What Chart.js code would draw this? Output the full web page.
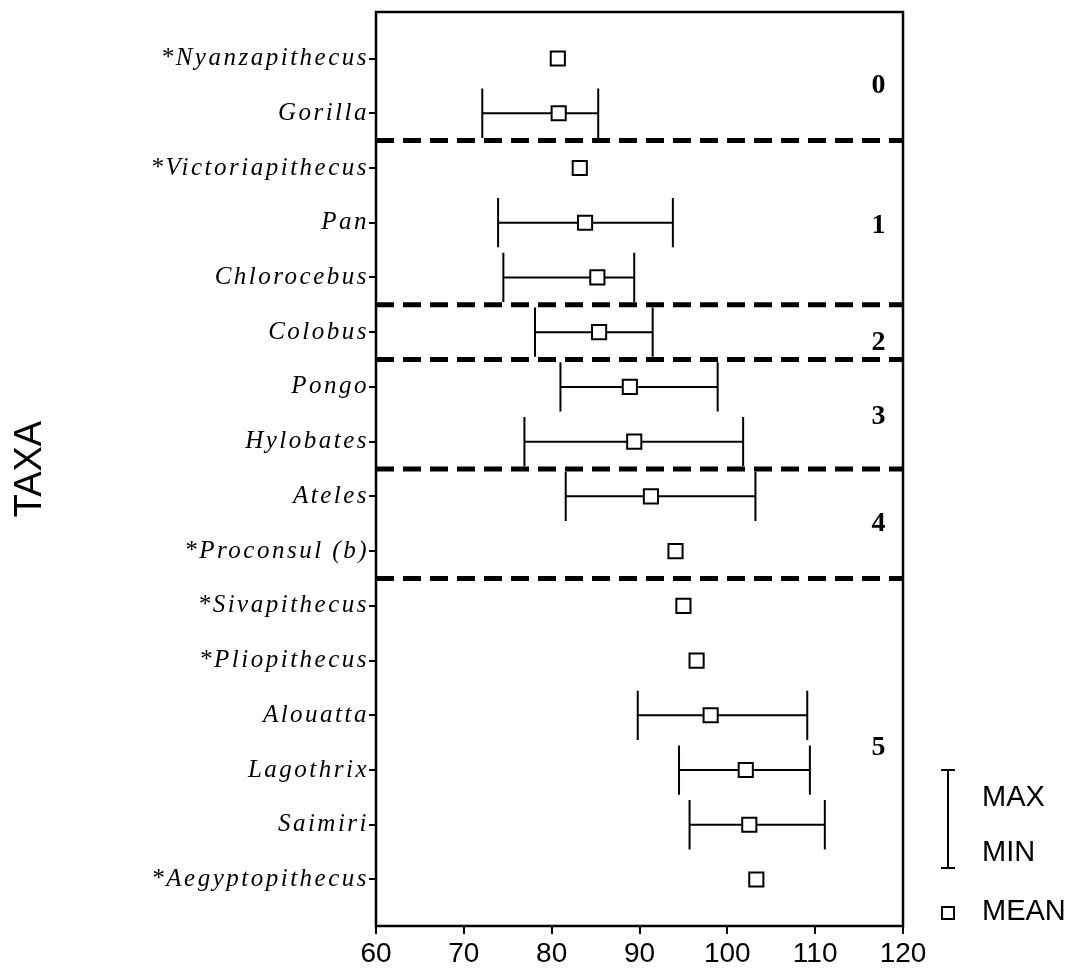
<!DOCTYPE html>
<html lang="en">
<head>
  <meta charset="UTF-8" />
  <title>Taxa range chart</title>
  <script src="https://cdn.jsdelivr.net/npm/chart.js"></script>
  <style>
    html, body { margin: 0; padding: 0; background: #ffffff; }
    canvas { display: block; }
  </style>
</head>
<body>
  <canvas id="taxaChart" width="1076" height="971"></canvas>

  <script>
    // data
    const taxa = ['*Nyanzapithecus', 'Gorilla', '*Victoriapithecus', 'Pan', 'Chlorocebus', 'Colobus',
      'Pongo', 'Hylobates', 'Ateles', '*Proconsul (b)', '*Sivapithecus', '*Pliopithecus',
      'Alouatta', 'Lagothrix', 'Saimiri', '*Aegyptopithecus'];
    const means = [80.7, 80.8, 83.2, 83.8, 85.2, 85.4, 88.9, 89.4, 91.3, 94.1, 95.0, 96.5, 98.1, 102.1, 102.5, 103.3];
    const mins = [null, 72.1, null, 73.9, 74.5, 78.1, 81.0, 76.9, 81.6, null, null, null, 89.8, 94.5, 95.7, null];
    const maxs = [null, 85.3, null, 93.8, 89.4, 91.5, 98.9, 101.8, 103.2, null, null, null, 109.1, 109.4, 111.1, null];
    const xTicks = [60, 70, 80, 90, 100, 110, 120];

    // group separators (between rows) and group labels
    const dividers = [1.5, 4.5, 5.5, 7.5, 9.5];
    const groupNames = ['0', '1', '2', '3', '4', '5'];
    const groupRows = [0.5, 3.05, 5.2, 6.55, 8.5, 12.6];

    const overlay = {
      id: 'overlay',
      beforeDraw(chart) {
        // spaced italic names on the y axis
        chart.ctx.letterSpacing = '2.5px';
      },
      beforeDatasetsDraw(chart) {
        const ctx = chart.ctx;
        ctx.letterSpacing = '0px';
        const { x, y } = chart.scales;
        const { left, right } = chart.chartArea;

        ctx.save();
        ctx.strokeStyle = '#000';
        ctx.lineWidth = 5;
        ctx.setLineDash([18, 9]);
        dividers.forEach(d => {
          const py = y.getPixelForValue(d);
          ctx.beginPath();
          ctx.moveTo(left, py);
          ctx.lineTo(right, py);
          ctx.stroke();
        });
        ctx.restore();

        // min-max bars
        ctx.save();
        ctx.strokeStyle = '#000';
        ctx.lineWidth = 2;
        taxa.forEach((t, i) => {
          if (mins[i] == null) return;
          const x0 = x.getPixelForValue(mins[i]);
          const x1 = x.getPixelForValue(maxs[i]);
          const py = y.getPixelForValue(i);
          const top = y.getPixelForValue(i - 0.45);
          const bot = y.getPixelForValue(i + 0.45);
          ctx.beginPath();
          ctx.moveTo(x0, py); ctx.lineTo(x1, py);
          ctx.moveTo(x0, top); ctx.lineTo(x0, bot);
          ctx.moveTo(x1, top); ctx.lineTo(x1, bot);
          ctx.stroke();
        });
        ctx.restore();
      },
      afterDraw(chart) {
        const ctx = chart.ctx;
        const { x, y } = chart.scales;
        const { left, right, top, bottom } = chart.chartArea;

        ctx.save();
        ctx.letterSpacing = '0px';
        ctx.strokeStyle = '#000';
        ctx.lineWidth = 2.5;
        ctx.strokeRect(left, top, right - left, bottom - top);

        // group numbers
        ctx.fillStyle = '#000';
        ctx.font = 'bold 28px "Liberation Serif"';
        ctx.textAlign = 'center';
        ctx.textBaseline = 'middle';
        groupNames.forEach((g, i) => {
          ctx.fillText(g, x.getPixelForValue(117.2), y.getPixelForValue(groupRows[i]));
        });

        // legend on the right
        const lx = right + 45;
        ctx.lineWidth = 2;
        ctx.beginPath();
        ctx.moveTo(lx, 770); ctx.lineTo(lx, 868);
        ctx.moveTo(lx - 7, 770); ctx.lineTo(lx + 7, 770);
        ctx.moveTo(lx - 7, 868); ctx.lineTo(lx + 7, 868);
        ctx.stroke();
        ctx.strokeRect(lx - 6, 907, 12, 12);
        ctx.font = '29px "Liberation Sans"';
        ctx.textAlign = 'left';
        ctx.fillText('MAX', lx + 34, 798);
        ctx.fillText('MIN', lx + 34, 853);
        ctx.fillText('MEAN', lx + 34, 912);
        ctx.restore();
      }
    };

    new Chart(document.getElementById('taxaChart'), {
      type: 'scatter',
      data: {
        datasets: [{
          label: 'MEAN',
          data: means.map((m, i) => ({ x: m, y: i })),
          pointStyle: 'rect',
          pointRadius: 10,
          pointHoverRadius: 10,
          borderColor: '#000',
          backgroundColor: '#fff',
          borderWidth: 2
        }]
      },
      options: {
        responsive: false,
        animation: false,
        devicePixelRatio: 1,
        layout: { padding: { top: 10, right: 173, left: 0, bottom: 0 } },
        plugins: { legend: { display: false }, tooltip: { enabled: false } },
        scales: {
          x: {
            type: 'linear',
            min: 60,
            max: 120,
            afterBuildTicks: s => { s.ticks = xTicks.map(v => ({ value: v })); },
            afterFit: s => { s.height = 45; s.paddingLeft = 0; s.paddingRight = 0; },
            grid: { drawOnChartArea: false, drawTicks: true, tickLength: 8, color: '#000', lineWidth: 2 },
            border: { display: false },
            ticks: {
              z: 1,
              color: '#000',
              padding: 3,
              font: { family: '"Liberation Sans"', size: 28 }
            }
          },
          y: {
            type: 'linear',
            reverse: true,
            min: -0.85,
            max: 15.85,
            afterBuildTicks: s => { s.ticks = taxa.map((t, i) => ({ value: i })); },
            afterFit: s => { s.width = 376; s.paddingTop = 0; s.paddingBottom = 0; },
            grid: { z: 1, drawOnChartArea: false, drawTicks: true, tickLength: 7, color: '#000', lineWidth: 2 },
            border: { display: false },
            title: {
              display: true,
              text: 'TAXA',
              color: '#000',
              padding: { top: 8, bottom: 0 },
              font: { family: '"Liberation Sans"', size: 38 }
            },
            ticks: {
              autoSkip: false,
              color: '#000',
              padding: 0,
              callback: v => taxa[v],
              font: { family: '"Liberation Serif"', size: 25, style: 'italic' }
            }
          }
        }
      },
      plugins: [overlay]
    });
  </script>
</body>
</html>
